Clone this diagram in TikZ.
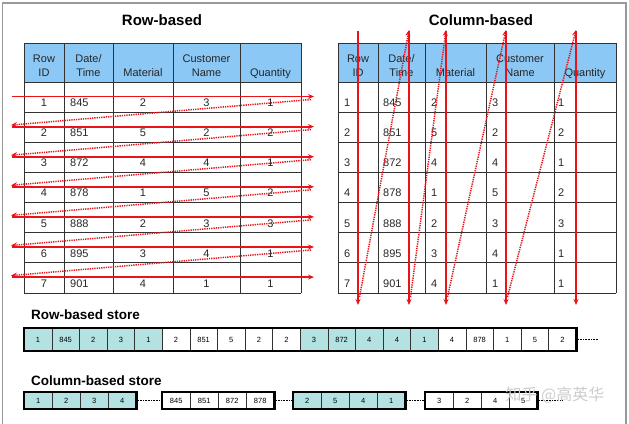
\documentclass[tikz,border=0pt]{standalone}
\usepackage{fontspec}
\setmainfont{Liberation Sans}
\newfontfamily\cjkfont{Noto Sans CJK SC}
\usetikzlibrary{arrows.meta}
\definecolor{hdrblue}{RGB}{140,200,245}
\definecolor{tealc}{RGB}{180,225,225}
\definecolor{arrred}{RGB}{232,20,26}
\definecolor{gridc}{RGB}{50,50,50}
\begin{document}
\begin{tikzpicture}[x=1pt,y=-1pt,
  framel/.style={draw=gray!80, line width=1.2pt},
  gridl/.style={draw=gridc, line width=0.8pt},
  hdrtxt/.style={font=\fontsize{11}{14}\selectfont, text=black!85, align=center, anchor=base, inner sep=0pt},
  celltxt/.style={font=\fontsize{11}{13}\selectfont, text=black!85, inner sep=0pt},
  ttl/.style={font=\fontsize{15}{17}\selectfont\bfseries, anchor=base, inner sep=0pt},
  sttl/.style={font=\fontsize{13.5}{16}\selectfont\bfseries, anchor=base west, inner sep=0pt},
  solidarr/.style={draw=arrred, line width=1.8pt, -{Stealth[length=6pt,width=5pt]}},
  dotarr/.style={draw=arrred, line width=1.5pt, dash pattern=on 1.3pt off 1pt, -{Stealth[length=6pt,width=5pt]}},
  scell/.style={draw=gridc, line width=0.5pt, minimum height=23pt, inner sep=0pt, font=\fontsize{7.5}{9}\selectfont, anchor=west},
  ccell/.style={draw=gridc, line width=0.5pt, minimum height=17pt, inner sep=0pt, font=\fontsize{7.5}{9}\selectfont, anchor=west},
  sbox/.style={draw=black, line width=2.4pt, inner sep=0pt, fill=none},
  dotline/.style={draw=black, line width=0.8pt, dash pattern=on 0.8pt off 0.8pt}
]
\useasboundingbox (0,0) rectangle (629,423);
% frame
\draw[framel] (2.5,424) -- (2.5,3) -- (626,3) -- (626,424);

% ================= Row-based table =================
\node[ttl] (rtitle) at (162,25) {Row-based};
\fill[hdrblue] (24,43) rectangle (301,82);
\foreach \x in {24,64,113,173,240,301} \draw[gridl] (\x,43) -- (\x,293);
\draw[gridl] (24,43) -- (301,43);
\foreach \k in {0,...,7} \draw[gridl] (24,82+30.14*\k) -- (301,82+30.14*\k);
\node[hdrtxt] (rh1) at (44,76) {Row\\ID};
\node[hdrtxt] (rh2) at (88.5,76) {Date/\\Time};
\node[hdrtxt] (rh3) at (143,76) {Material};
\node[hdrtxt] (rh4) at (206.5,76) {Customer\\Name};
\node[hdrtxt] (rh5) at (270.5,76) {Quantity};
\foreach \a/\b/\c/\d/\e [count=\i from 0] in {1/845/2/3/1,2/851/5/2/2,3/872/4/4/1,4/878/1/5/2,5/888/2/3/3,6/895/3/4/1,7/901/4/1/1}{
  \pgfmathsetmacro\yb{82+30.14*\i+24.5}
  \node[celltxt, anchor=base] (ra\i) at (44,\yb) {\a};
  \node[celltxt, anchor=base west] (rb\i) at (70,\yb) {\b};
  \node[celltxt, anchor=base] (rc\i) at (143,\yb) {\c};
  \node[celltxt, anchor=base] (rd\i) at (206.5,\yb) {\d};
  \node[celltxt, anchor=base] (re\i) at (270.5,\yb) {\e};
}
% row arrows
\foreach \k in {0,...,6}{
  \pgfmathsetmacro\ya{96.5+30.1*\k}
  \coordinate (rl\k) at (12,\ya);
  \coordinate (rr\k) at (314,\ya);
  \draw[solidarr] (rl\k) -- (rr\k);
}
\foreach \k in {0,...,5}{
  \pgfmathsetmacro\ys{99.5+30.1*\k}
  \pgfmathsetmacro\ye{96.5+30.1*(\k+1)-1.5}
  \coordinate (ds\k) at (311,\ys);
  \coordinate (de\k) at (11,\ye);
  \draw[dotarr] (ds\k) -- (de\k);
}

% ================= Column-based table =================
\node[ttl] (ctitle) at (481,25) {Column-based};
\fill[hdrblue] (338,43) rectangle (616,82);
\foreach \x in {338,378,425,486,554,616} \draw[gridl] (\x,43) -- (\x,293);
\draw[gridl] (338,43) -- (616,43);
\foreach \k in {0,...,7} \draw[gridl] (338,82+30.14*\k) -- (616,82+30.14*\k);
\node[hdrtxt] (ch1) at (358,76) {Row\\ID};
\node[hdrtxt] (ch2) at (401.5,76) {Date/\\Time};
\node[hdrtxt] (ch3) at (455.5,76) {Material};
\node[hdrtxt] (ch4) at (520,76) {Customer\\Name};
\node[hdrtxt] (ch5) at (585,76) {Quantity};
\foreach \a/\b/\c/\d/\e [count=\i from 0] in {1/845/2/3/1,2/851/5/2/2,3/872/4/4/1,4/878/1/5/2,5/888/2/3/3,6/895/3/4/1,7/901/4/1/1}{
  \pgfmathsetmacro\yb{82+30.14*\i+24.5}
  \node[celltxt, anchor=base west] (ca\i) at (344,\yb) {\a};
  \node[celltxt, anchor=base west] (cb\i) at (383,\yb) {\b};
  \node[celltxt, anchor=base west] (cc\i) at (431,\yb) {\c};
  \node[celltxt, anchor=base west] (cd\i) at (492,\yb) {\d};
  \node[celltxt, anchor=base west] (ce\i) at (558,\yb) {\e};
}
% column arrows
\foreach \x [count=\i] in {358,409,446,506,576}{
  \coordinate (ct\i) at (\x,30.5);
  \coordinate (cbm\i) at (\x,305);
  \draw[solidarr] (ct\i) -- (cbm\i);
}
\foreach \xa/\xb [count=\i] in {358/409,409/446,446/506,506/576}{
  \coordinate (cds\i) at (\xa+1.5,297);
  \coordinate (cde\i) at (\xb,30);
  \draw[dotarr] (cds\i) -- (cde\i);
}

% ================= Row-based store =================
\node[sttl] (rstitle) at (31,319) {Row-based store};
\foreach \v [count=\i from 0] in {1,845,2,3,1,2,851,5,2,2,3,872,4,4,1,4,878,1,5,2}{
  \pgfmathtruncatemacro\grp{mod(int(\i/5),2)}
  \ifnum\grp=0 \def\fc{tealc}\else\def\fc{white}\fi
  \node[scell, fill=\fc, minimum width=27.6pt] (rs\i) at (24+27.6*\i,339.5) {\v};
}
\draw[sbox] (rs0.north west) rectangle (rs19.south east);
\coordinate (rsend) at (598,339.5);
\draw[dotline] (rs19.east) -- (rsend);

% ================= Column-based store =================
\node[sttl] (cstitle) at (31,385) {Column-based store};
\foreach \bx/\fc/\va/\vb/\vc/\vd [count=\j] in {24/tealc/1/2/3/4, 162/white/845/851/872/878, 293/tealc/2/5/4/1, 425/white/3/2/4/5}{
  \foreach \v [count=\i from 0] in {\va,\vb,\vc,\vd}{
    \node[ccell, fill=\fc, minimum width=28pt] (cs\j-\i) at (\bx+28*\i,400.5) {\v};
  }
  \draw[sbox] (cs\j-0.north west) rectangle (cs\j-3.south east);
}
\draw[dotline] (cs1-3.east) -- (cs2-0.west);
\draw[dotline] (cs2-3.east) -- (cs3-0.west);
\draw[dotline] (cs3-3.east) -- (cs4-0.west);
\coordinate (csend) at (563,400.5);
\draw[dotline] (cs4-3.east) -- (csend);

% watermark
\node[font=\cjkfont\fontsize{16}{18}\selectfont, text=gray!40, inner sep=0pt] (wm) at (555,395) {知乎 @高英华};
\end{tikzpicture}
\end{document}
